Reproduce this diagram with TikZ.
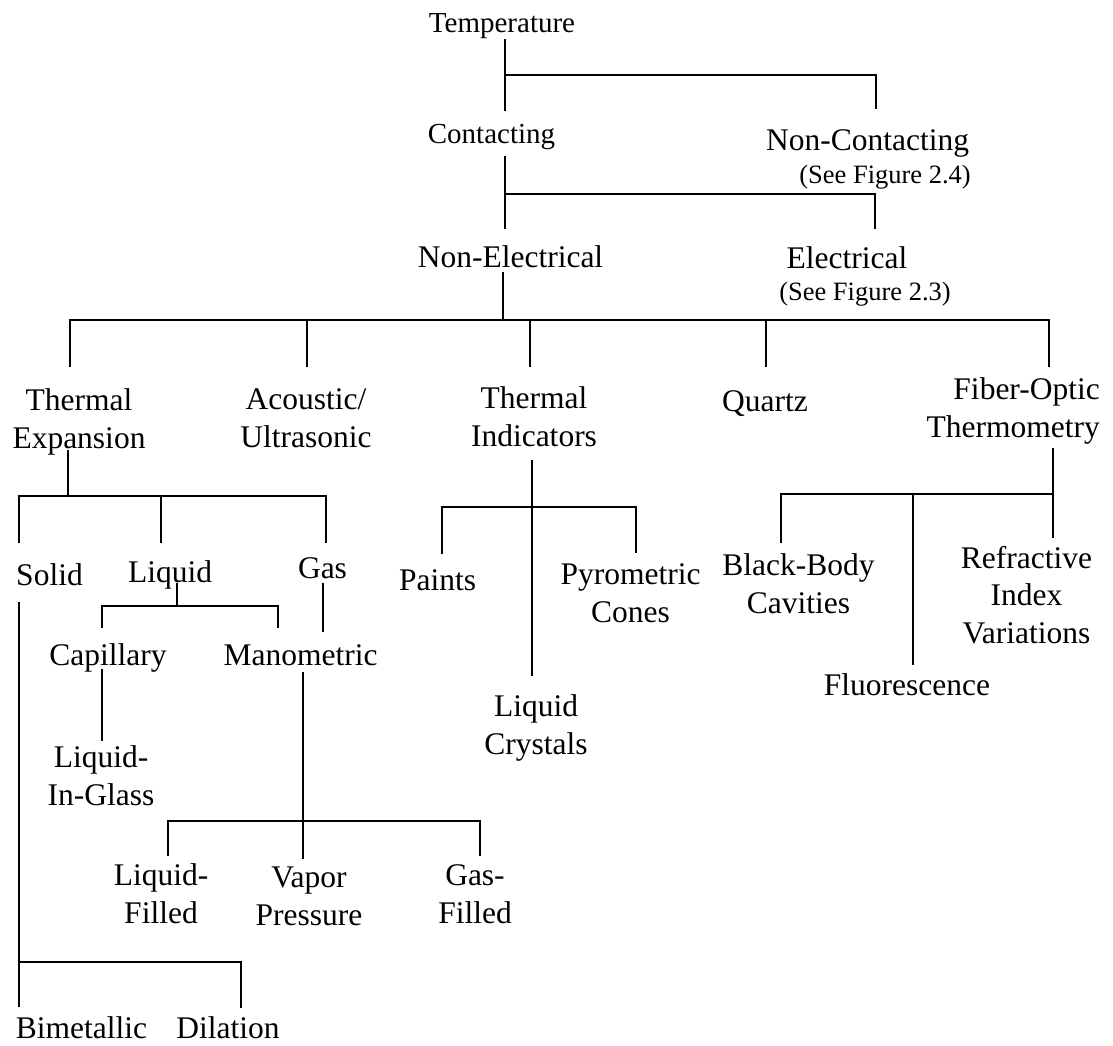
\documentclass[tikz,border=0pt]{standalone}
\usepackage{fontspec}
\setmainfont{Liberation Serif}
\begin{document}
\begin{tikzpicture}[x=1pt,y=-1pt,
  lbl/.style={font=\fontsize{31.5}{37.5}\selectfont, inner sep=0pt, anchor=base, align=center},
  toplbl/.style={lbl, font=\fontsize{29}{34}\selectfont},
  note/.style={lbl, font=\fontsize{26.5}{30}\selectfont},
  link/.style={line width=2pt, line join=miter}]
\useasboundingbox (0,0) rectangle (1113,1045);

% ---- labels (multi-line labels are placed by the baseline of their last line) ----
\node[toplbl] (temp) at (502,32) {Temperature};
\node[toplbl] (cont) at (491.5,143) {Contacting};
\node[lbl] (noncont) at (867.5,150) {Non-Contacting};
\node[note, anchor=base east] (see24) at (971,183) {(See Figure 2.4)};
\node[lbl] (nonelec) at (510.5,267) {Non-Electrical};
\node[lbl] (elec) at (847,268) {Electrical};
\node[note] (see23) at (865,300) {(See Figure 2.3)};

\node[lbl] (thexp) at (79,448) {Thermal\\Expansion};
\node[lbl] (acou) at (306,447) {Acoustic/\\Ultrasonic};
\node[lbl] (thind) at (534,446) {Thermal\\Indicators};
\node[lbl] (quartz) at (765,411) {Quartz};
\node[lbl, align=right, anchor=base east] (fiber) at (1100,437) {Fiber-Optic\\Thermometry};

\node[lbl] (solid) at (49.5,585) {Solid};
\node[lbl] (liquid) at (170,582) {Liquid};
\node[lbl] (gas) at (322.5,578) {Gas};
\node[lbl] (capil) at (108,665) {Capillary};
\node[lbl] (mano) at (300.5,665) {Manometric};
\node[lbl] (lig) at (101,805) {Liquid-\\In-Glass};
\node[lbl] (lfill) at (161,923) {Liquid-\\Filled};
\node[lbl] (vapor) at (309,925) {Vapor\\Pressure};
\node[lbl] (gfill) at (475,923) {Gas-\\Filled};
\node[lbl] (bimet) at (81.5,1038) {Bimetallic};
\node[lbl] (dil) at (228,1038) {Dilation};

\node[lbl] (paints) at (437.5,590) {Paints};
\node[lbl] (pyro) at (630.5,622) {Pyrometric\\Cones};
\node[lbl] (lcry) at (536,754) {Liquid\\Crystals};

\node[lbl] (bb) at (798.5,613) {Black-Body\\Cavities};
\node[lbl] (refr) at (1026.5,643) {Refractive\\Index\\Variations};
\node[lbl] (fluor) at (907,695) {Fluorescence};

% ---- Temperature -> Contacting / Non-Contacting ----
\coordinate (t0) at (505,39);  \coordinate (t1) at (505,111);
\coordinate (t2) at (876,75);  \coordinate (t3) at (876,109);
\draw[link] (t0) -- (t1);
\draw[link] (t0 |- t2) -- (t2) -- (t3);

% ---- Contacting -> Non-Electrical / Electrical ----
\coordinate (c0) at (505,156); \coordinate (c1) at (505,229);
\coordinate (c2) at (875,194); \coordinate (c3) at (875,229);
\draw[link] (c0) -- (c1);
\draw[link] (c0 |- c2) -- (c2) -- (c3);

% ---- Non-Electrical -> five families ----
\coordinate (n0) at (503,272); \coordinate (n1) at (503,319.5);
\coordinate (b1) at (70,367);  \coordinate (b2) at (307,367);
\coordinate (b3) at (530,367); \coordinate (b4) at (766,367);
\coordinate (b5) at (1049,367);
\draw[link] (n0) -- (n1);
\draw[link] (b1) -- (b1 |- n1) -- (b5 |- n1) -- (b5);
\foreach \b in {b2,b3,b4} \draw[link] (\b |- n1) -- (\b);

% ---- Thermal Expansion -> Solid / Liquid / Gas ----
\coordinate (e0) at (68,450);  \coordinate (e1) at (68,496);
\coordinate (s1) at (19,543);  \coordinate (s2) at (161,543);
\coordinate (s3) at (326,543);
\draw[link] (e0) -- (e1);
\draw[link] (s1) -- (s1 |- e1) -- (s3 |- e1) -- (s3);
\draw[link] (s2 |- e1) -- (s2);

% ---- Liquid -> Capillary / Manometric ----
\coordinate (l0) at (177,583); \coordinate (l1) at (177,606);
\coordinate (l2) at (102,628); \coordinate (l3) at (278,628);
\draw[link] (l0) -- (l1);
\draw[link] (l2) -- (l2 |- l1) -- (l3 |- l1) -- (l3);

% ---- Gas -> Manometric ----
\coordinate (g0) at (323,583); \coordinate (g1) at (323,632);
\draw[link] (g0) -- (g1);

% ---- Capillary -> Liquid-In-Glass ----
\coordinate (k0) at (102,669); \coordinate (k1) at (102,741);
\draw[link] (k0) -- (k1);

% ---- Manometric -> filled systems ----
\coordinate (m0) at (303,672); \coordinate (m1) at (303,859);
\coordinate (mb) at (303,821);
\coordinate (m2) at (168,856); \coordinate (m3) at (480,856);
\draw[link] (m0) -- (m1);
\draw[link] (m2) -- (m2 |- mb) -- (m3 |- mb) -- (m3);

% ---- Solid -> Bimetallic / Dilation ----
\coordinate (d0) at (19,602);  \coordinate (d1) at (19,1007);
\coordinate (db) at (19,962);  \coordinate (d2) at (241,1008);
\draw[link] (d0) -- (d1);
\draw[link] (db) -- (d2 |- db) -- (d2);

% ---- Thermal Indicators ----
\coordinate (i0) at (532,460); \coordinate (i1) at (532,676);
\coordinate (ib) at (532,507);
\coordinate (i2) at (442,554); \coordinate (i3) at (636,553);
\draw[link] (i0) -- (i1);
\draw[link] (i2) -- (i2 |- ib) -- (i3 |- ib) -- (i3);

% ---- Fiber-Optic Thermometry ----
\coordinate (f0) at (1053,448); \coordinate (f1) at (1053,538);
\coordinate (fb) at (1053,494);
\coordinate (f2) at (781,543);  \coordinate (f3) at (913,665);
\draw[link] (f0) -- (f1);
\draw[link] (f2) -- (f2 |- fb) -- (fb);
\draw[link] (f3 |- fb) -- (f3);
\end{tikzpicture}
\end{document}
